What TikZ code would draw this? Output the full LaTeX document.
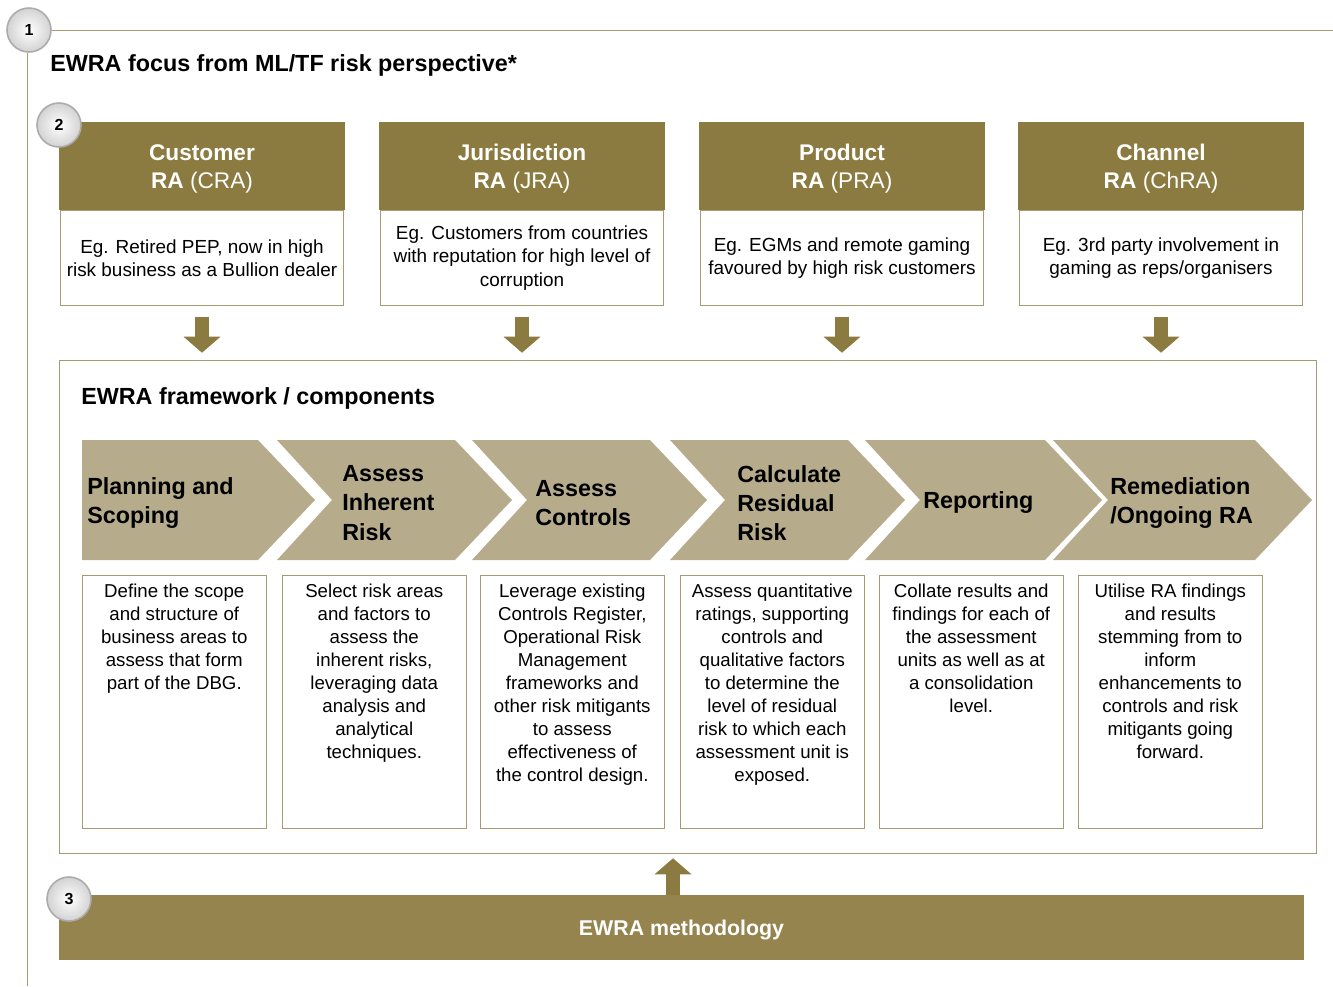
\documentclass[tikz,border=0pt]{standalone}
\usepackage{fontspec}
\setmainfont{Liberation Sans}
\usepackage{xcolor}
\usetikzlibrary{positioning}
\usetikzlibrary{calc}
\usetikzlibrary{arrows.meta}

\definecolor{ewraolive}{RGB}{139,123,64}
\definecolor{ewrabar}{RGB}{150,132,78}
\definecolor{ewrakhaki}{RGB}{182,172,140}
\definecolor{ewraline}{RGB}{165,155,115}

\tikzset{
  numcirc/.style={circle, draw=gray!65, line width=1.2pt, inner sep=0pt,
    inner color=white, outer color=gray!35, minimum size=33pt,
    font=\bfseries\fontsize{12}{12}\selectfont},
  titletext/.style={inner sep=0pt, font=\bfseries\fontsize{17.5}{21}\selectfont},
  headbox/.style={fill=ewraolive, inner sep=0pt,
    minimum width=214.5pt, minimum height=66pt},
  headtext/.style={text=white, align=center, inner sep=0pt,
    font=\bfseries\fontsize{17}{21}\selectfont},
  egbox/.style={draw=ewraline, fill=white, align=center, inner sep=0pt,
    minimum width=212pt, minimum height=71.25pt,
    font=\fontsize{14.2}{17.5}\selectfont},
  framebox/.style={draw=ewraline, inner sep=0pt,
    minimum width=942.75pt, minimum height=369.75pt},
  blockarrow/.style={draw=ewraolive, line width=10.5pt,
    -{Triangle[width=27pt,length=12pt]}},
  steptext/.style={inner sep=0pt, align=left,
    font=\bfseries\fontsize{17.5}{22}\selectfont},
  descbox/.style={draw=ewraline, inner sep=0pt,
    minimum width=138pt, minimum height=189.75pt},
  desctext/.style={inner sep=0pt, align=center,
    font=\fontsize{14}{17.25}\selectfont},
  methbar/.style={fill=ewrabar, inner sep=0pt,
    minimum width=933.75pt, minimum height=48.75pt},
  methtext/.style={text=white, inner sep=0pt,
    font=\bfseries\fontsize{16}{19}\selectfont}
}

\begin{document}
\begin{tikzpicture}[x=0.75pt,y=-0.75pt]
\useasboundingbox (0,0) rectangle (1333,986);

% outer frame
\node[numcirc] (n1) at (29,30) {1};
\draw[ewraline] (n1.east) -- (1333,30);
\draw[ewraline] ($(n1.south)+(-2,0)$) -- ($(n1.south |- 0,986)+(-2,0)$);
\node[titletext, anchor=west] (focus) at (50,65) {EWRA focus from ML/TF risk perspective*};

% risk perspectives
\foreach \x/\nm/\ab/\eg [count=\i] in {
  202/Customer/CRA/{Eg. Retired PEP, now in high\\risk business as a Bullion dealer},
  522/Jurisdiction/JRA/{Eg. Customers from countries\\with reputation for high level of\\corruption},
  842/Product/PRA/{Eg. EGMs and remote gaming\\favoured by high risk customers},
  1161/Channel/ChRA/{Eg. 3rd party involvement in\\gaming as reps/organisers}}{
  \node[headbox] (h\i) at (\x,166) {};
  \node[headtext] (ht\i) at ($(h\i.center)+(0,3)$) {\nm\\RA {\mdseries(\ab)}};
  \node[egbox, below=0pt of h\i] (e\i) {\eg};
}
\node[numcirc] (n2) at (59,125) {2};

% framework
\node[framebox] (frame) at (687.5,606.5) {};
\foreach \i in {1,...,4}
  \draw[blockarrow] ($(e\i.south)+(0,11)$) -- ($(e\i.south |- frame.north)+(0,-7)$);
\node[titletext, anchor=west] (fwtitle) at (81,398) {EWRA framework / components};

\fill[ewrakhaki] (82,440) -- (258,440) -- (315,500) -- (258,560) -- (82,560) -- cycle;
\foreach \l/\r in {277/455,472/650,670/848,865/1045,1053/1255}
  \fill[ewrakhaki] (\l,440) -- (\r,440) -- (\r+57,500) -- (\r,560) -- (\l,560) -- (\l+55,500) -- cycle;

\foreach \x/\txt [count=\i] in {
  87/{Planning and\\Scoping},
  342/{Assess\\Inherent\\Risk},
  535/{Assess\\Controls},
  737/{Calculate\\Residual\\Risk},
  923/{Reporting},
  1110/{Remediation\\/Ongoing RA}}
  \node[steptext, anchor=west] (c\i) at (\x,503) {\txt};

\foreach \x/\txt [count=\i] in {
  82/{Define the scope\\and structure of\\business areas to\\assess that form\\part of the DBG.},
  282/{Select risk areas\\and factors to\\assess the\\inherent risks,\\leveraging data\\analysis and\\analytical\\techniques.},
  480/{Leverage existing\\Controls Register,\\Operational Risk\\Management\\frameworks and\\other risk mitigants\\to assess\\effectiveness of\\the control design.},
  680/{Assess quantitative\\ratings, supporting\\controls and\\qualitative factors\\to determine the\\level of residual\\risk to which each\\assessment unit is\\exposed.},
  879/{Collate results and\\findings for each of\\the assessment\\units as well as at\\a consolidation\\level.},
  1078/{Utilise RA findings\\and results\\stemming from to\\inform\\enhancements to\\controls and risk\\mitigants going\\forward.}}{
  \node[descbox, anchor=north west] (d\i) at (\x,575) {};
  \node[desctext, anchor=north] (t\i) at ($(d\i.north)+(0,9)$) {\txt};
}

% methodology
\node[methbar] (bar) at (681.5,927.5) {};
\node[methtext] (meth) at ($(bar.center)+(0,3)$) {EWRA methodology};
\draw[blockarrow] ($(bar.north)+(-8.5,0)$) -- ($(frame.south)+(-14.5,5)$);
\node[numcirc] (n3) at (69,899) {3};
\end{tikzpicture}
\end{document}
